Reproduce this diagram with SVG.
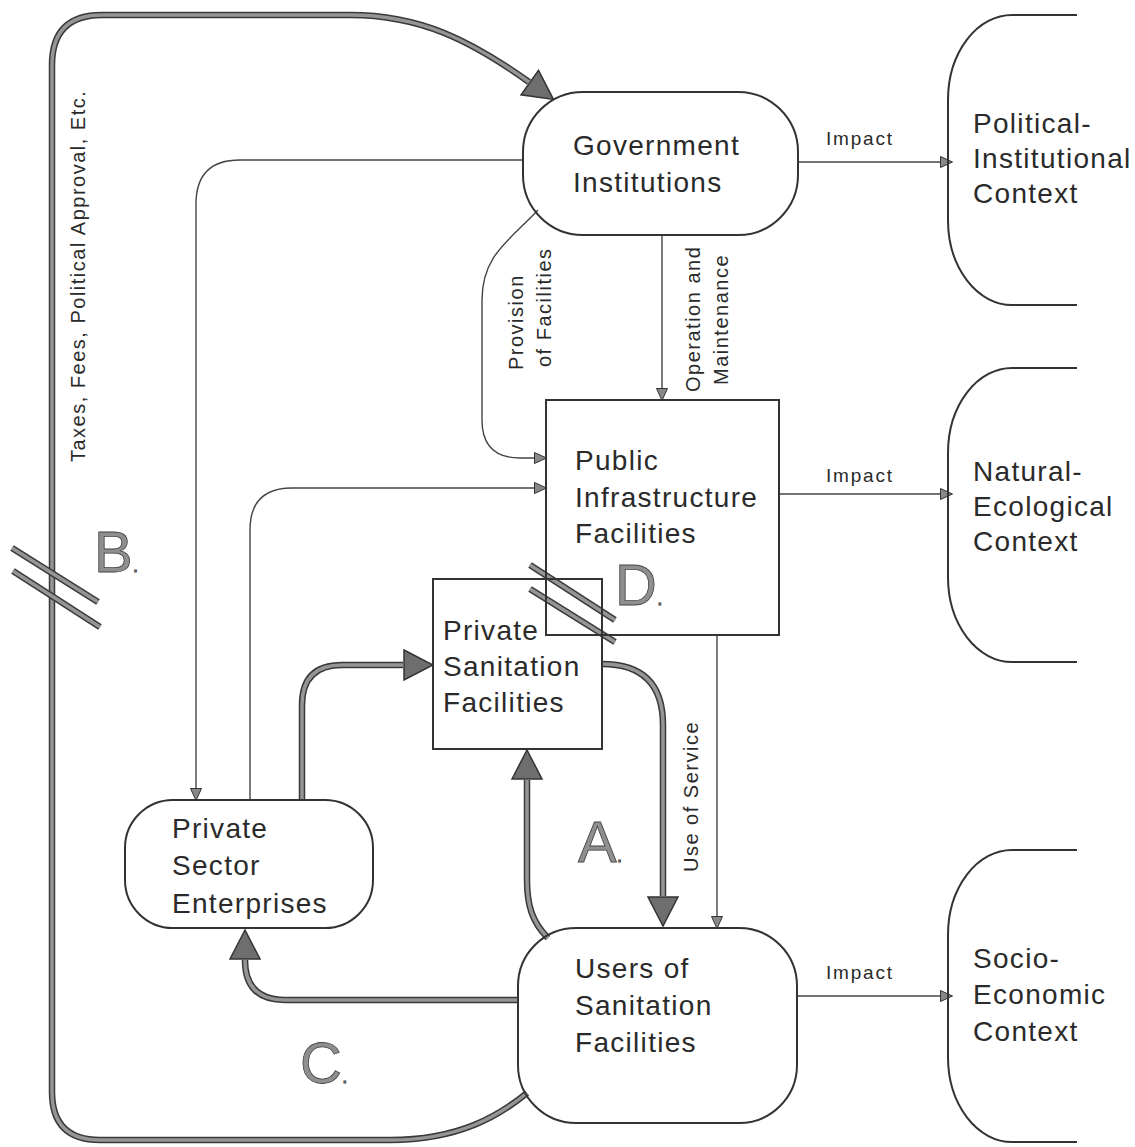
<svg xmlns="http://www.w3.org/2000/svg" width="1135" height="1147" viewBox="0 0 1135 1147">
<style>
.nd{fill:none;stroke:#333;stroke-width:2}
.t{font-family:"Liberation Sans",Arial,Helvetica,sans-serif;font-size:28px;letter-spacing:1.3px;fill:#2a2a2a}
.s{font-family:"Liberation Sans",Arial,Helvetica,sans-serif;font-size:20px;letter-spacing:1.5px;fill:#2a2a2a}
.im{font-family:"Liberation Sans",Arial,Helvetica,sans-serif;font-size:19px;letter-spacing:1.8px;fill:#2a2a2a}
.big{font-family:"Liberation Sans",Arial,Helvetica,sans-serif;font-size:58px;fill:#8f8f8f;stroke:#444;stroke-width:0.8}
.dot{font-size:20px}
.thin{fill:none;stroke:#444;stroke-width:1.4}
.tkO{fill:none;stroke:#3a3a3a;stroke-width:6.5}
.tkI{fill:none;stroke:#959595;stroke-width:3.5}
</style>
<defs>
<marker id="sa" markerUnits="userSpaceOnUse" viewBox="0 0 13 12" refX="0" refY="6" markerWidth="13" markerHeight="12" orient="auto">
<path d="M0.5,0.5 L12.5,6 L0.5,11.5 Z" fill="#888" stroke="#333" stroke-width="1"/>
</marker>
<marker id="ba" markerUnits="userSpaceOnUse" viewBox="0 0 31 32" refX="0" refY="16" markerWidth="31" markerHeight="32" orient="auto">
<path d="M1,1 L30,16 L1,31 Z" fill="#6e6e6e" stroke="#333" stroke-width="1.5"/>
</marker>
<path id="pLoop" d="M527,1093 C500,1115 460,1140 390,1140 H100 Q52,1140 52,1092 V65 Q52,15 102,15 H350 C420,15 470,40 529,82"/>
<path id="pA" d="M548,938 C532,922 527,905 527,880 V780"/>
<path id="pUse" d="M602,664 Q663,664 663,725 V896"/>
<path id="pPS" d="M302,800 V705 Q302,665 342,665 H403"/>
<path id="pC" d="M518,1000 H285 Q245,1000 245,960"/>
<path id="h1" d="M12,548 L98,602"/>
<path id="h2" d="M13,571 L100,627"/>
<path id="h3" d="M530,565 L615,620"/>
<path id="h4" d="M530,589 L615,642"/>
</defs>

<g id="connectors">
<path class="thin" d="M523,160 H240 Q196,160 196,204 V788" marker-end="url(#sa)"/>
<path class="thin" d="M662,235 V388" marker-end="url(#sa)"/>
<path class="thin" d="M538,210 C510,240 482,255 482,300 V420 Q482,458 520,458 H534" marker-end="url(#sa)"/>
<path class="thin" d="M250,800 V530 Q250,488 292,488 H534" marker-end="url(#sa)"/>
<path class="thin" d="M717,635 V916" marker-end="url(#sa)"/>
<path class="thin" d="M798,162 H940" marker-end="url(#sa)"/>
<path class="thin" d="M779,494 H940" marker-end="url(#sa)"/>
<path class="thin" d="M797,996 H940" marker-end="url(#sa)"/>
<use href="#pLoop" class="tkO" marker-end="url(#ba)"/><use href="#pLoop" class="tkI"/>
<use href="#pA" class="tkO" marker-end="url(#ba)"/><use href="#pA" class="tkI"/>
<use href="#pUse" class="tkO" marker-end="url(#ba)"/><use href="#pUse" class="tkI"/>
<use href="#pPS" class="tkO" marker-end="url(#ba)"/><use href="#pPS" class="tkI"/>
<use href="#pC" class="tkO" marker-end="url(#ba)"/><use href="#pC" class="tkI"/>
<use href="#h1" class="tkO"/><use href="#h1" class="tkI"/>
<use href="#h2" class="tkO"/><use href="#h2" class="tkI"/>
<use href="#h3" class="tkO"/><use href="#h3" class="tkI"/>
<use href="#h4" class="tkO"/><use href="#h4" class="tkI"/>
<text class="s" transform="translate(85,462) rotate(-90)">Taxes, Fees, Political Approval, Etc.</text>
<text class="s" transform="translate(523,370) rotate(-90)">Provision</text>
<text class="s" transform="translate(551,367) rotate(-90)">of Facilities</text>
<text class="s" transform="translate(700,392) rotate(-90)">Operation and</text>
<text class="s" transform="translate(728,385) rotate(-90)">Maintenance</text>
<text class="s" transform="translate(698,872) rotate(-90)">Use of Service</text>
<text class="im" x="826" y="145">Impact</text>
<text class="im" x="826" y="482">Impact</text>
<text class="im" x="826" y="979">Impact</text>
<text class="big" x="578" y="862">A<tspan class="dot">.</tspan></text>
<text class="big" x="94" y="572">B<tspan class="dot">.</tspan></text>
<text class="big" x="300" y="1083">C<tspan class="dot">.</tspan></text>
<text class="big" x="615" y="605">D<tspan class="dot">.</tspan></text>
</g>

<g id="government">
<rect class="nd" x="523" y="92" width="275" height="143" rx="60" ry="60"/>
<text class="t" x="573" y="155">Government</text>
<text class="t" x="573" y="192">Institutions</text>
</g>
<g id="public">
<rect class="nd" x="546" y="400" width="233" height="235"/>
<text class="t" x="575" y="470">Public</text>
<text class="t" x="575" y="507">Infrastructure</text>
<text class="t" x="575" y="543">Facilities</text>
</g>
<g id="private-sanitation">
<rect class="nd" x="433" y="579" width="169" height="170"/>
<text class="t" x="443" y="640">Private</text>
<text class="t" x="443" y="676">Sanitation</text>
<text class="t" x="443" y="712">Facilities</text>
</g>
<g id="private-sector">
<rect class="nd" x="125" y="800" width="248" height="128" rx="48" ry="48"/>
<text class="t" x="172" y="838">Private</text>
<text class="t" x="172" y="875">Sector</text>
<text class="t" x="172" y="913">Enterprises</text>
</g>
<g id="users">
<rect class="nd" x="518" y="928" width="279" height="195" rx="58" ry="58"/>
<text class="t" x="575" y="978">Users of</text>
<text class="t" x="575" y="1015">Sanitation</text>
<text class="t" x="575" y="1052">Facilities</text>
</g>
<g id="political">
<path class="nd" d="M1077,15 H1012 A64,85 0 0 0 948,100 V220 A64,85 0 0 0 1012,305 H1077"/>
<text class="t" x="973" y="133">Political-</text>
<text class="t" x="973" y="168">Institutional</text>
<text class="t" x="973" y="203">Context</text>
</g>
<g id="natural">
<path class="nd" d="M1077,368 H1012 A64,85 0 0 0 948,453 V577 A64,85 0 0 0 1012,662 H1077"/>
<text class="t" x="973" y="481">Natural-</text>
<text class="t" x="973" y="516">Ecological</text>
<text class="t" x="973" y="551">Context</text>
</g>
<g id="socio">
<path class="nd" d="M1077,850 H1012 A64,85 0 0 0 948,935 V1057 A64,85 0 0 0 1012,1142 H1077"/>
<text class="t" x="973" y="968">Socio-</text>
<text class="t" x="973" y="1004">Economic</text>
<text class="t" x="973" y="1041">Context</text>
</g>
</svg>
